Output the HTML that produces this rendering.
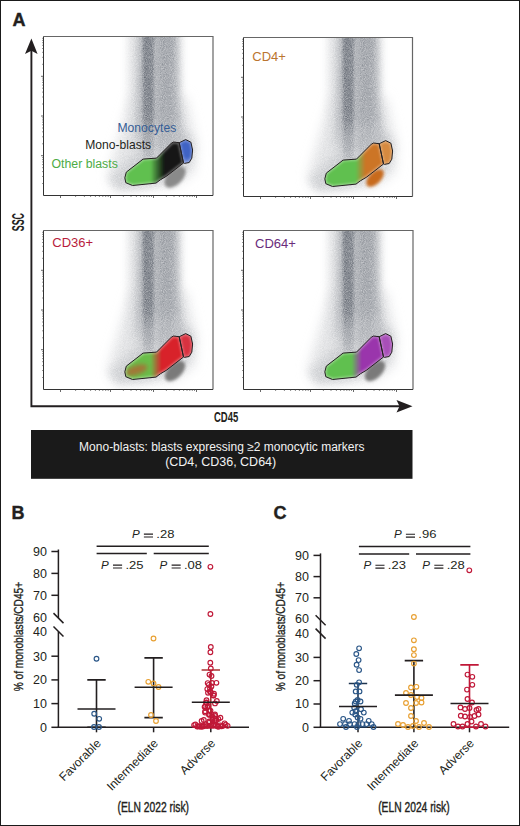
<!DOCTYPE html>
<html><head><meta charset="utf-8"><style>
html,body{margin:0;padding:0;background:#fff;}
svg{display:block;}
text{font-family:"Liberation Sans",sans-serif;}
</style></head><body>
<svg width="520" height="826" viewBox="0 0 520 826">
<defs>
<filter id="b2" x="-50%" y="-50%" width="200%" height="200%"><feGaussianBlur stdDeviation="2"/></filter>
<filter id="b3" x="-50%" y="-50%" width="200%" height="200%"><feGaussianBlur stdDeviation="3"/></filter>
<filter id="b5" x="-50%" y="-50%" width="200%" height="200%"><feGaussianBlur stdDeviation="5"/></filter>
<filter id="b8" x="-50%" y="-50%" width="200%" height="200%"><feGaussianBlur stdDeviation="8"/></filter>
<filter id="b12" x="-50%" y="-50%" width="200%" height="200%"><feGaussianBlur stdDeviation="12"/></filter>
<filter id="b4" x="-50%" y="-50%" width="200%" height="200%"><feGaussianBlur stdDeviation="4"/></filter>
<filter id="b6" x="-50%" y="-50%" width="200%" height="200%"><feGaussianBlur stdDeviation="6"/></filter>
<filter id="b7" x="-50%" y="-50%" width="200%" height="200%"><feGaussianBlur stdDeviation="7"/></filter>
<filter id="b25" x="-50%" y="-50%" width="200%" height="200%"><feGaussianBlur stdDeviation="2.5"/></filter>
<filter id="b15" x="-50%" y="-50%" width="200%" height="200%"><feGaussianBlur stdDeviation="1.5"/></filter>
<filter id="b1" x="-50%" y="-50%" width="200%" height="200%"><feGaussianBlur stdDeviation="0.8"/></filter>
<clipPath id="pc"><rect x="0" y="0" width="170" height="159"/></clipPath>

<polygon id="gbig" points="82.8,135.6 81.3,141.3 82.3,146.2 89,149 112.5,146.6 116.9,143.3 122.7,139.9 140,126.5 135.7,106.2 130.1,105.5 127.9,106.6 113,121.6 99.6,122.6"/>
<polygon id="gmono" points="135.7,106.2 142.2,103.1 147.4,105.7 149.1,113.5 148.3,121.7 145.7,126 140.9,126.9 140,126.5"/>
<clipPath id="cbig"><polygon points="82.8,135.6 81.3,141.3 82.3,146.2 89,149 112.5,146.6 116.9,143.3 122.7,139.9 140,126.5 135.7,106.2 130.1,105.5 127.9,106.6 113,121.6 99.6,122.6"/></clipPath><clipPath id="cmono"><polygon points="135.7,106.2 142.2,103.1 147.4,105.7 149.1,113.5 148.3,121.7 145.7,126 140.9,126.9 140,126.5"/></clipPath>
<linearGradient id="fadeV" gradientUnits="userSpaceOnUse" x1="0" y1="-20" x2="0" y2="128"><stop offset="0" stop-color="#fff" stop-opacity="1"/><stop offset="0.68" stop-color="#fff" stop-opacity="0.95"/><stop offset="0.88" stop-color="#fff" stop-opacity="0.4"/><stop offset="1" stop-color="#fff" stop-opacity="0"/></linearGradient>
<mask id="fm" maskUnits="userSpaceOnUse" x="-20" y="-30" width="220" height="220"><rect x="-20" y="-30" width="220" height="172" fill="url(#fadeV)"/></mask>
<filter id="grain" filterUnits="userSpaceOnUse" x="0" y="0" width="170" height="159" color-interpolation-filters="sRGB">
<feColorMatrix in="SourceGraphic" type="matrix" values="0 0 0 0 0  0 0 0 0 0  0 0 0 0 0  -1 0 0 0 1" result="D"/>
<feTurbulence type="fractalNoise" baseFrequency="1.1" numOctaves="2" seed="4" result="T"/>
<feColorMatrix in="T" type="matrix" values="0 0 0 0 0  0 0 0 0 0  0 0 0 0 0  1 0 0 0 0" result="N"/>
<feComposite in="D" in2="N" operator="arithmetic" k1="0.9" k2="0.55" k3="0" k4="0" result="G"/>
<feFlood flood-color="#1d2533"/>
<feComposite in2="G" operator="in"/>
</filter>
<g id="dens0">
<rect x="-20" y="-20" width="210" height="200" fill="#fff"/>
<polygon points="88,60 142,60 153,108 151,135 130,150 72,153 64,141" fill="#e0e0e0" filter="url(#b6)"/>
<rect x="85" y="-20" width="53" height="128" fill="#dcdcdc" filter="url(#b4)"/>
<polygon points="74,153 66,142 96,112 118,96 142,94 150,106 146,128 128,142 100,151" fill="#cdcdcd" filter="url(#b4)"/>
<ellipse cx="117" cy="118" rx="30" ry="15" fill="#c6c6c6" filter="url(#b5)" transform="rotate(-38 117 118)"/>
<g mask="url(#fm)">
<polygon points="95,-20 134,-20 135,60 141,112 91,112 94,60" fill="#aaaaaa" filter="url(#b3)"/>
<rect x="116" y="-20" width="13" height="160" fill="#9c9c9c" filter="url(#b25)"/>
<rect x="99.5" y="-20" width="10.5" height="160" fill="#747474" filter="url(#b15)"/>
</g>
</g>
<g id="dens"><use href="#dens0" filter="url(#grain)"/></g>
</defs>
<rect x="0.5" y="0.5" width="519" height="825" fill="#fff" stroke="#1a1a1a" stroke-width="1"/>
<text x="12.5" y="25.8" font-size="18" font-weight="bold" fill="#231f20" stroke="#231f20" stroke-width="0.4">A</text>
<g transform="translate(43.5,36.5)">
<g clip-path="url(#pc)"><use href="#dens"/>
<ellipse cx="131.5" cy="140.5" rx="13" ry="7.5" fill="#8a8a8a" filter="url(#b15)" transform="rotate(-45 131.5 140.5)"/>
</g>
<linearGradient id="grTL" gradientUnits="userSpaceOnUse" x1="107" y1="0" x2="121" y2="0"><stop offset="0" stop-color="#60c050"/><stop offset="1" stop-color="#121212"/></linearGradient>
<g clip-path="url(#cbig)"><use href="#gbig" fill="url(#grTL)" stroke="url(#grTL)" stroke-width="3" filter="url(#b1)"/>
<use href="#gbig" fill="none" stroke="#fff" stroke-opacity="0.35" stroke-width="3" filter="url(#b1)"/>
</g>
<linearGradient id="mgrTL" gradientUnits="userSpaceOnUse" x1="0" y1="104" x2="0" y2="127"><stop offset="0" stop-color="#3f63c4"/><stop offset="0.7" stop-color="#3f63c4"/><stop offset="1" stop-color="#7b93dc"/></linearGradient>
<g clip-path="url(#cmono)"><use href="#gmono" fill="url(#mgrTL)" stroke="url(#mgrTL)" stroke-width="3" filter="url(#b1)"/><use href="#gmono" fill="none" stroke="#fff" stroke-opacity="0.3" stroke-width="3" filter="url(#b1)"/></g>
<use href="#gbig" fill="none" stroke="#231f20" stroke-width="1"/>
<use href="#gmono" fill="none" stroke="#231f20" stroke-width="1"/>
<path d="M0,0 H169.5 V159" fill="none" stroke="#666" stroke-width="1.2"/>
<path d="M0,0 V159 H169.5" fill="none" stroke="#333" stroke-width="1"/>
<path d="M0,119.2 h-2.5 M0,79.5 h-2.5 M0,39.8 h-2.5 M0,147.0 h-1.2 M0,140.0 h-1.2 M0,135.1 h-1.2 M0,131.2 h-1.2 M0,128.1 h-1.2 M0,125.4 h-1.2 M0,123.1 h-1.2 M0,121.1 h-1.2 M0,107.3 h-1.2 M0,100.3 h-1.2 M0,95.3 h-1.2 M0,91.5 h-1.2 M0,88.3 h-1.2 M0,85.7 h-1.2 M0,83.4 h-1.2 M0,81.3 h-1.2 M0,67.5 h-1.2 M0,60.5 h-1.2 M0,55.6 h-1.2 M0,51.7 h-1.2 M0,48.6 h-1.2 M0,45.9 h-1.2 M0,43.6 h-1.2 M0,41.6 h-1.2 M0,27.8 h-1.2 M0,20.8 h-1.2 M0,15.8 h-1.2 M0,12.0 h-1.2 M0,8.8 h-1.2 M0,6.2 h-1.2 M0,3.9 h-1.2 M0,1.8 h-1.2 M17,159 v2.5 M32.1,159 v1.3 M40.9,159 v1.3 M47.1,159 v1.3 M51.9,159 v1.3 M55.9,159 v1.3 M59.3,159 v1.3 M62.2,159 v1.3 M64.7,159 v1.3 M67,159 v2.5 M79.9,159 v1.3 M87.5,159 v1.3 M92.9,159 v1.3 M97.1,159 v1.3 M100.5,159 v1.3 M103.3,159 v1.3 M105.8,159 v1.3 M108.0,159 v1.3 M110,159 v2.5 M122.9,159 v1.3 M130.5,159 v1.3 M135.9,159 v1.3 M140.1,159 v1.3 M143.5,159 v1.3 M146.3,159 v1.3 M148.8,159 v1.3 M151.0,159 v1.3 M153,159 v2.5" stroke="#444" stroke-width="0.8"/>
</g>
<g transform="translate(243.5,37.5)">
<g clip-path="url(#pc)"><use href="#dens"/>
<ellipse cx="131.5" cy="140.5" rx="11" ry="6" fill="#c86a1e" filter="url(#b15)" transform="rotate(-45 131.5 140.5)"/>
</g>
<linearGradient id="grTR" gradientUnits="userSpaceOnUse" x1="112" y1="0" x2="122" y2="0"><stop offset="0" stop-color="#60c050"/><stop offset="1" stop-color="#cc7428"/></linearGradient>
<g clip-path="url(#cbig)"><use href="#gbig" fill="url(#grTR)" stroke="url(#grTR)" stroke-width="3" filter="url(#b1)"/>
<use href="#gbig" fill="none" stroke="#fff" stroke-opacity="0.35" stroke-width="3" filter="url(#b1)"/>
</g>
<linearGradient id="mgrTR" gradientUnits="userSpaceOnUse" x1="0" y1="104" x2="0" y2="127"><stop offset="0" stop-color="#d68a40"/><stop offset="0.7" stop-color="#d68a40"/><stop offset="1" stop-color="#d68a40"/></linearGradient>
<g clip-path="url(#cmono)"><use href="#gmono" fill="url(#mgrTR)" stroke="url(#mgrTR)" stroke-width="3" filter="url(#b1)"/><use href="#gmono" fill="none" stroke="#fff" stroke-opacity="0.3" stroke-width="3" filter="url(#b1)"/></g>
<use href="#gbig" fill="none" stroke="#231f20" stroke-width="1"/>
<use href="#gmono" fill="none" stroke="#231f20" stroke-width="1"/>
<path d="M0,0 H169 V159" fill="none" stroke="#666" stroke-width="1.2"/>
<path d="M0,0 V159 H169" fill="none" stroke="#333" stroke-width="1"/>
<path d="M0,119.2 h-2.5 M0,79.5 h-2.5 M0,39.8 h-2.5 M0,147.0 h-1.2 M0,140.0 h-1.2 M0,135.1 h-1.2 M0,131.2 h-1.2 M0,128.1 h-1.2 M0,125.4 h-1.2 M0,123.1 h-1.2 M0,121.1 h-1.2 M0,107.3 h-1.2 M0,100.3 h-1.2 M0,95.3 h-1.2 M0,91.5 h-1.2 M0,88.3 h-1.2 M0,85.7 h-1.2 M0,83.4 h-1.2 M0,81.3 h-1.2 M0,67.5 h-1.2 M0,60.5 h-1.2 M0,55.6 h-1.2 M0,51.7 h-1.2 M0,48.6 h-1.2 M0,45.9 h-1.2 M0,43.6 h-1.2 M0,41.6 h-1.2 M0,27.8 h-1.2 M0,20.8 h-1.2 M0,15.8 h-1.2 M0,12.0 h-1.2 M0,8.8 h-1.2 M0,6.2 h-1.2 M0,3.9 h-1.2 M0,1.8 h-1.2 M17,159 v2.5 M32.1,159 v1.3 M40.9,159 v1.3 M47.1,159 v1.3 M51.9,159 v1.3 M55.9,159 v1.3 M59.3,159 v1.3 M62.2,159 v1.3 M64.7,159 v1.3 M67,159 v2.5 M79.9,159 v1.3 M87.5,159 v1.3 M92.9,159 v1.3 M97.1,159 v1.3 M100.5,159 v1.3 M103.3,159 v1.3 M105.8,159 v1.3 M108.0,159 v1.3 M110,159 v2.5 M122.9,159 v1.3 M130.5,159 v1.3 M135.9,159 v1.3 M140.1,159 v1.3 M143.5,159 v1.3 M146.3,159 v1.3 M148.8,159 v1.3 M151.0,159 v1.3 M153,159 v2.5" stroke="#444" stroke-width="0.8"/>
</g>
<g transform="translate(43.5,230.5)">
<g clip-path="url(#pc)"><use href="#dens"/>
<ellipse cx="131.5" cy="140.5" rx="12.5" ry="7" fill="#7a7a7a" filter="url(#b15)" transform="rotate(-45 131.5 140.5)"/>
</g>
<linearGradient id="grBL" gradientUnits="userSpaceOnUse" x1="107" y1="0" x2="118" y2="0"><stop offset="0" stop-color="#6abd48"/><stop offset="1" stop-color="#d8202c"/></linearGradient>
<g clip-path="url(#cbig)"><use href="#gbig" fill="url(#grBL)" stroke="url(#grBL)" stroke-width="3" filter="url(#b1)"/>
<ellipse cx="93" cy="139.5" rx="11.5" ry="4.5" fill="#ac6a34" filter="url(#b2)" opacity="0.85" transform="rotate(-18 93 139.5)"/>
<use href="#gbig" fill="none" stroke="#fff" stroke-opacity="0.35" stroke-width="3" filter="url(#b1)"/>
</g>
<linearGradient id="mgrBL" gradientUnits="userSpaceOnUse" x1="0" y1="104" x2="0" y2="127"><stop offset="0" stop-color="#d83040"/><stop offset="0.7" stop-color="#d83040"/><stop offset="1" stop-color="#d83040"/></linearGradient>
<g clip-path="url(#cmono)"><use href="#gmono" fill="url(#mgrBL)" stroke="url(#mgrBL)" stroke-width="3" filter="url(#b1)"/><use href="#gmono" fill="none" stroke="#fff" stroke-opacity="0.3" stroke-width="3" filter="url(#b1)"/></g>
<use href="#gbig" fill="none" stroke="#231f20" stroke-width="1"/>
<use href="#gmono" fill="none" stroke="#231f20" stroke-width="1"/>
<path d="M0,0 H169.5 V159" fill="none" stroke="#666" stroke-width="1.2"/>
<path d="M0,0 V159 H169.5" fill="none" stroke="#333" stroke-width="1"/>
<path d="M0,119.2 h-2.5 M0,79.5 h-2.5 M0,39.8 h-2.5 M0,147.0 h-1.2 M0,140.0 h-1.2 M0,135.1 h-1.2 M0,131.2 h-1.2 M0,128.1 h-1.2 M0,125.4 h-1.2 M0,123.1 h-1.2 M0,121.1 h-1.2 M0,107.3 h-1.2 M0,100.3 h-1.2 M0,95.3 h-1.2 M0,91.5 h-1.2 M0,88.3 h-1.2 M0,85.7 h-1.2 M0,83.4 h-1.2 M0,81.3 h-1.2 M0,67.5 h-1.2 M0,60.5 h-1.2 M0,55.6 h-1.2 M0,51.7 h-1.2 M0,48.6 h-1.2 M0,45.9 h-1.2 M0,43.6 h-1.2 M0,41.6 h-1.2 M0,27.8 h-1.2 M0,20.8 h-1.2 M0,15.8 h-1.2 M0,12.0 h-1.2 M0,8.8 h-1.2 M0,6.2 h-1.2 M0,3.9 h-1.2 M0,1.8 h-1.2 M17,159 v2.5 M32.1,159 v1.3 M40.9,159 v1.3 M47.1,159 v1.3 M51.9,159 v1.3 M55.9,159 v1.3 M59.3,159 v1.3 M62.2,159 v1.3 M64.7,159 v1.3 M67,159 v2.5 M79.9,159 v1.3 M87.5,159 v1.3 M92.9,159 v1.3 M97.1,159 v1.3 M100.5,159 v1.3 M103.3,159 v1.3 M105.8,159 v1.3 M108.0,159 v1.3 M110,159 v2.5 M122.9,159 v1.3 M130.5,159 v1.3 M135.9,159 v1.3 M140.1,159 v1.3 M143.5,159 v1.3 M146.3,159 v1.3 M148.8,159 v1.3 M151.0,159 v1.3 M153,159 v2.5" stroke="#444" stroke-width="0.8"/>
</g>
<g transform="translate(243.5,230.5)">
<g clip-path="url(#pc)"><use href="#dens"/>
<ellipse cx="131.5" cy="140.5" rx="12.5" ry="7" fill="#7a7a7a" filter="url(#b15)" transform="rotate(-45 131.5 140.5)"/>
</g>
<linearGradient id="grBR" gradientUnits="userSpaceOnUse" x1="108" y1="0" x2="118" y2="0"><stop offset="0" stop-color="#60c050"/><stop offset="1" stop-color="#9a36ac"/></linearGradient>
<g clip-path="url(#cbig)"><use href="#gbig" fill="url(#grBR)" stroke="url(#grBR)" stroke-width="3" filter="url(#b1)"/>
<use href="#gbig" fill="none" stroke="#fff" stroke-opacity="0.35" stroke-width="3" filter="url(#b1)"/>
</g>
<linearGradient id="mgrBR" gradientUnits="userSpaceOnUse" x1="0" y1="104" x2="0" y2="127"><stop offset="0" stop-color="#a850b8"/><stop offset="0.7" stop-color="#a850b8"/><stop offset="1" stop-color="#a850b8"/></linearGradient>
<g clip-path="url(#cmono)"><use href="#gmono" fill="url(#mgrBR)" stroke="url(#mgrBR)" stroke-width="3" filter="url(#b1)"/><use href="#gmono" fill="none" stroke="#fff" stroke-opacity="0.3" stroke-width="3" filter="url(#b1)"/></g>
<use href="#gbig" fill="none" stroke="#231f20" stroke-width="1"/>
<use href="#gmono" fill="none" stroke="#231f20" stroke-width="1"/>
<path d="M0,0 H169.5 V159" fill="none" stroke="#666" stroke-width="1.2"/>
<path d="M0,0 V159 H169.5" fill="none" stroke="#333" stroke-width="1"/>
<path d="M0,119.2 h-2.5 M0,79.5 h-2.5 M0,39.8 h-2.5 M0,147.0 h-1.2 M0,140.0 h-1.2 M0,135.1 h-1.2 M0,131.2 h-1.2 M0,128.1 h-1.2 M0,125.4 h-1.2 M0,123.1 h-1.2 M0,121.1 h-1.2 M0,107.3 h-1.2 M0,100.3 h-1.2 M0,95.3 h-1.2 M0,91.5 h-1.2 M0,88.3 h-1.2 M0,85.7 h-1.2 M0,83.4 h-1.2 M0,81.3 h-1.2 M0,67.5 h-1.2 M0,60.5 h-1.2 M0,55.6 h-1.2 M0,51.7 h-1.2 M0,48.6 h-1.2 M0,45.9 h-1.2 M0,43.6 h-1.2 M0,41.6 h-1.2 M0,27.8 h-1.2 M0,20.8 h-1.2 M0,15.8 h-1.2 M0,12.0 h-1.2 M0,8.8 h-1.2 M0,6.2 h-1.2 M0,3.9 h-1.2 M0,1.8 h-1.2 M17,159 v2.5 M32.1,159 v1.3 M40.9,159 v1.3 M47.1,159 v1.3 M51.9,159 v1.3 M55.9,159 v1.3 M59.3,159 v1.3 M62.2,159 v1.3 M64.7,159 v1.3 M67,159 v2.5 M79.9,159 v1.3 M87.5,159 v1.3 M92.9,159 v1.3 M97.1,159 v1.3 M100.5,159 v1.3 M103.3,159 v1.3 M105.8,159 v1.3 M108.0,159 v1.3 M110,159 v2.5 M122.9,159 v1.3 M130.5,159 v1.3 M135.9,159 v1.3 M140.1,159 v1.3 M143.5,159 v1.3 M146.3,159 v1.3 M148.8,159 v1.3 M151.0,159 v1.3 M153,159 v2.5" stroke="#444" stroke-width="0.8"/>
</g>
<text x="117.5" y="132" font-size="12.15" fill="#355d95">Monocytes</text>
<text x="85.3" y="149" font-size="12.1" fill="#231f20">Mono-blasts</text>
<text x="51.5" y="168" font-size="12.3" fill="#4cab45">Other blasts</text>
<text x="252.3" y="61.1" font-size="13" fill="#bb7530">CD4+</text>
<text x="52.3" y="246.8" font-size="13" fill="#b81c3c">CD36+</text>
<text x="255" y="247.6" font-size="13" fill="#6a2c7c">CD64+</text>
<path d="M31.4,48 V406.2 H402" fill="none" stroke="#231f20" stroke-width="1.9"/>
<path d="M31.4,38.4 L37.6,54 L31.4,50.8 L25,54 Z" fill="#231f20"/>
<path d="M412.5,406.2 L396.5,400 L399.5,406.2 L396.5,412.6 Z" fill="#231f20"/>
<text transform="translate(24,231.2) rotate(-90)" font-size="16.5" font-weight="bold" fill="#231f20" textLength="18.2" lengthAdjust="spacingAndGlyphs">SSC</text>
<text x="214" y="422" font-size="15.2" font-weight="bold" fill="#231f20" textLength="24.2" lengthAdjust="spacingAndGlyphs">CD45</text>
<rect x="31" y="430" width="381.5" height="48.8" fill="#1a1a1a"/>
<text x="221.8" y="450.6" font-size="12" fill="#f2f2f2" text-anchor="middle">Mono-blasts: blasts expressing ≥2 monocytic markers</text>
<text x="165.2" y="465.8" font-size="12" fill="#f2f2f2" textLength="111" lengthAdjust="spacingAndGlyphs">(CD4, CD36, CD64)</text>
<text x="11.5" y="518.6" font-size="18" font-weight="bold" fill="#231f20" stroke="#231f20" stroke-width="0.4">B</text>
<path d="M58.4,549.5 V618.1 M58.4,631.5 V727.3" stroke="#231f20" stroke-width="1.5" fill="none"/>
<path d="M53.5,613.1 L63.5,623.1" stroke="#231f20" stroke-width="1.5"/>
<path d="M53.5,626.5 L63.5,636.5" stroke="#231f20" stroke-width="1.5"/>
<path d="M51.4,551.5 H58.4" stroke="#231f20" stroke-width="1.5"/>
<path d="M51.4,573.4000000000001 H58.4" stroke="#231f20" stroke-width="1.5"/>
<path d="M51.4,595.3000000000001 H58.4" stroke="#231f20" stroke-width="1.5"/>
<path d="M51.4,656.1999999999999 H58.4" stroke="#231f20" stroke-width="1.5"/>
<path d="M51.4,679.9 H58.4" stroke="#231f20" stroke-width="1.5"/>
<path d="M51.4,703.5999999999999 H58.4" stroke="#231f20" stroke-width="1.5"/>
<path d="M51.4,727.3 H58.4" stroke="#231f20" stroke-width="1.5"/>
<text x="46.9" y="555.8" font-size="12.5" fill="#231f20" text-anchor="end">90</text>
<text x="46.9" y="577.7" font-size="12.5" fill="#231f20" text-anchor="end">80</text>
<text x="46.9" y="599.6" font-size="12.5" fill="#231f20" text-anchor="end">70</text>
<text x="46.9" y="622.4" font-size="12.5" fill="#231f20" text-anchor="end">60</text>
<text x="46.9" y="635.8" font-size="12.5" fill="#231f20" text-anchor="end">40</text>
<text x="46.9" y="660.4999999999999" font-size="12.5" fill="#231f20" text-anchor="end">30</text>
<text x="46.9" y="684.1999999999999" font-size="12.5" fill="#231f20" text-anchor="end">20</text>
<text x="46.9" y="707.8999999999999" font-size="12.5" fill="#231f20" text-anchor="end">10</text>
<text x="46.9" y="731.5999999999999" font-size="12.5" fill="#231f20" text-anchor="end">0</text>
<path d="M57.65,727.3 H249" stroke="#231f20" stroke-width="1.5"/>
<path d="M96.6,546.2 H208.8 M96.6,553.6 H146.8 M153.7,553.6 H208.8" stroke="#231f20" stroke-width="1.5"/>
<text x="131.9" y="538.2" font-size="11.6" fill="#231f20" font-style="italic">P</text>
<path d="M143.9,534.1 h9.1 M143.9,537.0 h9.1" stroke="#231f20" stroke-width="1.15"/>
<text x="156.3" y="538.2" font-size="11.6" fill="#231f20" textLength="18.1" lengthAdjust="spacingAndGlyphs">.28</text>
<text x="101.0" y="569.2" font-size="11.6" fill="#231f20" font-style="italic">P</text>
<path d="M113.0,565.1 h9.1 M113.0,568.0 h9.1" stroke="#231f20" stroke-width="1.15"/>
<text x="125.4" y="569.2" font-size="11.6" fill="#231f20" textLength="18.1" lengthAdjust="spacingAndGlyphs">.25</text>
<text x="159.6" y="569.2" font-size="11.6" fill="#231f20" font-style="italic">P</text>
<path d="M171.6,565.1 h9.1 M171.6,568.0 h9.1" stroke="#231f20" stroke-width="1.15"/>
<text x="184.0" y="569.2" font-size="11.6" fill="#231f20" textLength="18.1" lengthAdjust="spacingAndGlyphs">.08</text>
<path d="M96.5,727.3 v5" stroke="#231f20" stroke-width="1.5"/>
<path d="M96.5,679.9 V727.3 M87.3,679.9 H105.7 M87.3,727.3 H105.7" stroke="#231f20" stroke-width="1.6" fill="none"/>
<circle cx="96.5" cy="658.7" r="2.35" fill="none" stroke="#2b5788" stroke-width="1.15"/>
<circle cx="94.2" cy="713.7" r="2.35" fill="none" stroke="#2b5788" stroke-width="1.15"/>
<circle cx="99.2" cy="718.8" r="2.35" fill="none" stroke="#2b5788" stroke-width="1.15"/>
<circle cx="94.0" cy="727.0" r="2.35" fill="none" stroke="#2b5788" stroke-width="1.15"/>
<circle cx="99.0" cy="727.0" r="2.35" fill="none" stroke="#2b5788" stroke-width="1.15"/>
<path d="M77.5,709.0509999999999 H115.5" stroke="#231f20" stroke-width="1.6"/>
<text transform="translate(101.7,744.0999999999999) rotate(-45)" font-size="12" fill="#231f20" text-anchor="end">Favorable</text>
<path d="M153.6,727.3 v5" stroke="#231f20" stroke-width="1.5"/>
<path d="M153.6,657.8589999999999 V717.583 M144.4,657.8589999999999 H162.79999999999998 M144.4,717.583 H162.79999999999998" stroke="#231f20" stroke-width="1.6" fill="none"/>
<circle cx="153.5" cy="638.5" r="2.35" fill="none" stroke="#e8a032" stroke-width="1.15"/>
<circle cx="148.3" cy="681.8" r="2.35" fill="none" stroke="#e8a032" stroke-width="1.15"/>
<circle cx="153.5" cy="683.4" r="2.35" fill="none" stroke="#e8a032" stroke-width="1.15"/>
<circle cx="158.5" cy="687.0" r="2.35" fill="none" stroke="#e8a032" stroke-width="1.15"/>
<circle cx="151.0" cy="715.0" r="2.35" fill="none" stroke="#e8a032" stroke-width="1.15"/>
<circle cx="156.0" cy="721.0" r="2.35" fill="none" stroke="#e8a032" stroke-width="1.15"/>
<path d="M134.6,687.247 H172.6" stroke="#231f20" stroke-width="1.6"/>
<text transform="translate(158.79999999999998,744.0999999999999) rotate(-45)" font-size="12" fill="#231f20" text-anchor="end">Intermediate</text>
<path d="M210.8,727.3 v5" stroke="#231f20" stroke-width="1.5"/>
<path d="M210.8,669.9459999999999 V727.3 M201.60000000000002,669.9459999999999 H220.0 M201.60000000000002,727.3 H220.0" stroke="#a33" stroke-width="1.6" fill="none"/>
<circle cx="194.1" cy="725.1" r="2.35" fill="none" stroke="#c01838" stroke-width="1.15"/>
<circle cx="195.4" cy="724.4" r="2.35" fill="none" stroke="#c01838" stroke-width="1.15"/>
<circle cx="197.2" cy="726.5" r="2.35" fill="none" stroke="#c01838" stroke-width="1.15"/>
<circle cx="198.6" cy="726.4" r="2.35" fill="none" stroke="#c01838" stroke-width="1.15"/>
<circle cx="199.6" cy="726.2" r="2.35" fill="none" stroke="#c01838" stroke-width="1.15"/>
<circle cx="201.1" cy="726.7" r="2.35" fill="none" stroke="#c01838" stroke-width="1.15"/>
<circle cx="202.8" cy="726.5" r="2.35" fill="none" stroke="#c01838" stroke-width="1.15"/>
<circle cx="204.1" cy="726.0" r="2.35" fill="none" stroke="#c01838" stroke-width="1.15"/>
<circle cx="205.9" cy="724.3" r="2.35" fill="none" stroke="#c01838" stroke-width="1.15"/>
<circle cx="207.1" cy="726.1" r="2.35" fill="none" stroke="#c01838" stroke-width="1.15"/>
<circle cx="209.1" cy="722.8" r="2.35" fill="none" stroke="#c01838" stroke-width="1.15"/>
<circle cx="209.9" cy="725.7" r="2.35" fill="none" stroke="#c01838" stroke-width="1.15"/>
<circle cx="211.2" cy="725.6" r="2.35" fill="none" stroke="#c01838" stroke-width="1.15"/>
<circle cx="213.2" cy="725.7" r="2.35" fill="none" stroke="#c01838" stroke-width="1.15"/>
<circle cx="214.1" cy="724.3" r="2.35" fill="none" stroke="#c01838" stroke-width="1.15"/>
<circle cx="215.7" cy="725.5" r="2.35" fill="none" stroke="#c01838" stroke-width="1.15"/>
<circle cx="217.3" cy="726.3" r="2.35" fill="none" stroke="#c01838" stroke-width="1.15"/>
<circle cx="218.4" cy="726.7" r="2.35" fill="none" stroke="#c01838" stroke-width="1.15"/>
<circle cx="220.3" cy="725.3" r="2.35" fill="none" stroke="#c01838" stroke-width="1.15"/>
<circle cx="221.6" cy="726.2" r="2.35" fill="none" stroke="#c01838" stroke-width="1.15"/>
<circle cx="223.0" cy="725.8" r="2.35" fill="none" stroke="#c01838" stroke-width="1.15"/>
<circle cx="224.6" cy="723.3" r="2.35" fill="none" stroke="#c01838" stroke-width="1.15"/>
<circle cx="225.6" cy="724.6" r="2.35" fill="none" stroke="#c01838" stroke-width="1.15"/>
<circle cx="227.6" cy="725.8" r="2.35" fill="none" stroke="#c01838" stroke-width="1.15"/>
<circle cx="215.4" cy="718.7" r="2.35" fill="none" stroke="#c01838" stroke-width="1.15"/>
<circle cx="220.4" cy="717.7" r="2.35" fill="none" stroke="#c01838" stroke-width="1.15"/>
<circle cx="209.2" cy="721.5" r="2.35" fill="none" stroke="#c01838" stroke-width="1.15"/>
<circle cx="203.8" cy="719.9" r="2.35" fill="none" stroke="#c01838" stroke-width="1.15"/>
<circle cx="201.6" cy="721.0" r="2.35" fill="none" stroke="#c01838" stroke-width="1.15"/>
<circle cx="216.1" cy="720.4" r="2.35" fill="none" stroke="#c01838" stroke-width="1.15"/>
<circle cx="218.3" cy="718.9" r="2.35" fill="none" stroke="#c01838" stroke-width="1.15"/>
<circle cx="214.7" cy="720.6" r="2.35" fill="none" stroke="#c01838" stroke-width="1.15"/>
<circle cx="212.4" cy="719.7" r="2.35" fill="none" stroke="#c01838" stroke-width="1.15"/>
<circle cx="215.2" cy="715.9" r="2.35" fill="none" stroke="#c01838" stroke-width="1.15"/>
<circle cx="210.5" cy="710.6" r="2.35" fill="none" stroke="#c01838" stroke-width="1.15"/>
<circle cx="205.1" cy="711.3" r="2.35" fill="none" stroke="#c01838" stroke-width="1.15"/>
<circle cx="212.7" cy="716.9" r="2.35" fill="none" stroke="#c01838" stroke-width="1.15"/>
<circle cx="215.0" cy="703.4" r="2.35" fill="none" stroke="#c01838" stroke-width="1.15"/>
<circle cx="209.3" cy="710.7" r="2.35" fill="none" stroke="#c01838" stroke-width="1.15"/>
<circle cx="204.6" cy="706.8" r="2.35" fill="none" stroke="#c01838" stroke-width="1.15"/>
<circle cx="206.5" cy="700.2" r="2.35" fill="none" stroke="#c01838" stroke-width="1.15"/>
<circle cx="205.1" cy="712.6" r="2.35" fill="none" stroke="#c01838" stroke-width="1.15"/>
<circle cx="206.0" cy="702.7" r="2.35" fill="none" stroke="#c01838" stroke-width="1.15"/>
<circle cx="209.4" cy="714.6" r="2.35" fill="none" stroke="#c01838" stroke-width="1.15"/>
<circle cx="205.3" cy="706.5" r="2.35" fill="none" stroke="#c01838" stroke-width="1.15"/>
<circle cx="211.4" cy="714.8" r="2.35" fill="none" stroke="#c01838" stroke-width="1.15"/>
<circle cx="215.0" cy="714.4" r="2.35" fill="none" stroke="#c01838" stroke-width="1.15"/>
<circle cx="207.9" cy="705.9" r="2.35" fill="none" stroke="#c01838" stroke-width="1.15"/>
<circle cx="209.0" cy="714.8" r="2.35" fill="none" stroke="#c01838" stroke-width="1.15"/>
<circle cx="216.8" cy="700.9" r="2.35" fill="none" stroke="#c01838" stroke-width="1.15"/>
<circle cx="206.6" cy="702.4" r="2.35" fill="none" stroke="#c01838" stroke-width="1.15"/>
<circle cx="207.3" cy="707.2" r="2.35" fill="none" stroke="#c01838" stroke-width="1.15"/>
<circle cx="211.4" cy="686.5" r="2.35" fill="none" stroke="#c01838" stroke-width="1.15"/>
<circle cx="207.3" cy="689.1" r="2.35" fill="none" stroke="#c01838" stroke-width="1.15"/>
<circle cx="209.9" cy="691.6" r="2.35" fill="none" stroke="#c01838" stroke-width="1.15"/>
<circle cx="214.0" cy="693.7" r="2.35" fill="none" stroke="#c01838" stroke-width="1.15"/>
<circle cx="210.9" cy="692.5" r="2.35" fill="none" stroke="#c01838" stroke-width="1.15"/>
<circle cx="212.0" cy="682.9" r="2.35" fill="none" stroke="#c01838" stroke-width="1.15"/>
<circle cx="213.6" cy="695.3" r="2.35" fill="none" stroke="#c01838" stroke-width="1.15"/>
<circle cx="213.4" cy="695.6" r="2.35" fill="none" stroke="#c01838" stroke-width="1.15"/>
<circle cx="210.0" cy="688.8" r="2.35" fill="none" stroke="#c01838" stroke-width="1.15"/>
<circle cx="208.0" cy="692.8" r="2.35" fill="none" stroke="#c01838" stroke-width="1.15"/>
<circle cx="207.7" cy="683.1" r="2.35" fill="none" stroke="#c01838" stroke-width="1.15"/>
<circle cx="208.8" cy="684.8" r="2.35" fill="none" stroke="#c01838" stroke-width="1.15"/>
<circle cx="209.5" cy="674.6" r="2.35" fill="none" stroke="#c01838" stroke-width="1.15"/>
<circle cx="211.5" cy="676.0" r="2.35" fill="none" stroke="#c01838" stroke-width="1.15"/>
<circle cx="210.8" cy="668.5" r="2.35" fill="none" stroke="#c01838" stroke-width="1.15"/>
<circle cx="210.3" cy="662.7" r="2.35" fill="none" stroke="#c01838" stroke-width="1.15"/>
<circle cx="210.4" cy="652.2" r="2.35" fill="none" stroke="#c01838" stroke-width="1.15"/>
<circle cx="210.8" cy="647.0" r="2.35" fill="none" stroke="#c01838" stroke-width="1.15"/>
<circle cx="216.4" cy="682.8" r="2.35" fill="none" stroke="#c01838" stroke-width="1.15"/>
<circle cx="210.4" cy="614.0" r="2.35" fill="none" stroke="#c01838" stroke-width="1.15"/>
<circle cx="210.4" cy="566.8" r="2.35" fill="none" stroke="#c01838" stroke-width="1.15"/>
<path d="M191.8,702.178 H229.8" stroke="#231f20" stroke-width="1.6"/>
<text transform="translate(216.0,744.0999999999999) rotate(-45)" font-size="12" fill="#231f20" text-anchor="end">Adverse</text>
<text transform="translate(22.799999999999997,691.3) rotate(-90)" font-size="13" fill="#231f20" textLength="109.4" lengthAdjust="spacingAndGlyphs" stroke="#231f20" stroke-width="0.35">% of monoblasts/CD45+</text>
<text x="117.6" y="812.2" font-size="14.2" fill="#231f20" textLength="71.4" lengthAdjust="spacingAndGlyphs" stroke="#231f20" stroke-width="0.4">(ELN 2022 risk)</text>
<text x="273.5" y="518.6" font-size="18" font-weight="bold" fill="#231f20" stroke="#231f20" stroke-width="0.4">C</text>
<path d="M320.5,553.4 V727.3" stroke="#231f20" stroke-width="1.5" fill="none"/>
<path d="M315.6,615.3 L325.6,625.3" stroke="#231f20" stroke-width="1.5"/>
<path d="M315.6,628.6 L325.6,638.6" stroke="#231f20" stroke-width="1.5"/>
<path d="M313.5,555.4 H320.5" stroke="#231f20" stroke-width="1.5"/>
<path d="M313.5,576.6 H320.5" stroke="#231f20" stroke-width="1.5"/>
<path d="M313.5,597.8 H320.5" stroke="#231f20" stroke-width="1.5"/>
<path d="M313.5,657.4 H320.5" stroke="#231f20" stroke-width="1.5"/>
<path d="M313.5,680.6999999999999 H320.5" stroke="#231f20" stroke-width="1.5"/>
<path d="M313.5,704.0 H320.5" stroke="#231f20" stroke-width="1.5"/>
<path d="M313.5,727.3 H320.5" stroke="#231f20" stroke-width="1.5"/>
<text x="309.0" y="559.6999999999999" font-size="12.5" fill="#231f20" text-anchor="end">90</text>
<text x="309.0" y="580.9" font-size="12.5" fill="#231f20" text-anchor="end">80</text>
<text x="309.0" y="602.0999999999999" font-size="12.5" fill="#231f20" text-anchor="end">70</text>
<text x="309.0" y="622.5999999999999" font-size="12.5" fill="#231f20" text-anchor="end">60</text>
<text x="309.0" y="637.9" font-size="12.5" fill="#231f20" text-anchor="end">40</text>
<text x="309.0" y="661.6999999999999" font-size="12.5" fill="#231f20" text-anchor="end">30</text>
<text x="309.0" y="684.9999999999999" font-size="12.5" fill="#231f20" text-anchor="end">20</text>
<text x="309.0" y="708.3" font-size="12.5" fill="#231f20" text-anchor="end">10</text>
<text x="309.0" y="731.5999999999999" font-size="12.5" fill="#231f20" text-anchor="end">0</text>
<path d="M319.75,727.3 H509.2" stroke="#231f20" stroke-width="1.5"/>
<path d="M358.9,546.4 H470.4 M358.9,553.9 H409.2 M416,553.9 H470.4" stroke="#231f20" stroke-width="1.5"/>
<text x="393.90000000000003" y="538.3" font-size="11.6" fill="#231f20" font-style="italic">P</text>
<path d="M405.90000000000003,534.1999999999999 h9.1 M405.90000000000003,537.0999999999999 h9.1" stroke="#231f20" stroke-width="1.15"/>
<text x="418.3" y="538.3" font-size="11.6" fill="#231f20" textLength="18.1" lengthAdjust="spacingAndGlyphs">.96</text>
<text x="363.40000000000003" y="569.3" font-size="11.6" fill="#231f20" font-style="italic">P</text>
<path d="M375.40000000000003,565.1999999999999 h9.1 M375.40000000000003,568.0999999999999 h9.1" stroke="#231f20" stroke-width="1.15"/>
<text x="387.8" y="569.3" font-size="11.6" fill="#231f20" textLength="18.1" lengthAdjust="spacingAndGlyphs">.23</text>
<text x="422.3" y="569.3" font-size="11.6" fill="#231f20" font-style="italic">P</text>
<path d="M434.3,565.1999999999999 h9.1 M434.3,568.0999999999999 h9.1" stroke="#231f20" stroke-width="1.15"/>
<text x="446.7" y="569.3" font-size="11.6" fill="#231f20" textLength="18.1" lengthAdjust="spacingAndGlyphs">.28</text>
<path d="M358,727.3 v5" stroke="#231f20" stroke-width="1.5"/>
<path d="M358,683.496 V727.3 M348.8,683.496 H367.2 M348.8,727.3 H367.2" stroke="#1f3550" stroke-width="1.6" fill="none"/>
<circle cx="359.1" cy="648.3" r="2.35" fill="none" stroke="#2b5788" stroke-width="1.15"/>
<circle cx="356.3" cy="654.0" r="2.35" fill="none" stroke="#2b5788" stroke-width="1.15"/>
<circle cx="358.6" cy="660.1" r="2.35" fill="none" stroke="#2b5788" stroke-width="1.15"/>
<circle cx="356.6" cy="664.7" r="2.35" fill="none" stroke="#2b5788" stroke-width="1.15"/>
<circle cx="359.1" cy="670.1" r="2.35" fill="none" stroke="#2b5788" stroke-width="1.15"/>
<circle cx="359.1" cy="682.3" r="2.35" fill="none" stroke="#2b5788" stroke-width="1.15"/>
<circle cx="356.7" cy="684.8" r="2.35" fill="none" stroke="#2b5788" stroke-width="1.15"/>
<circle cx="355.7" cy="691.4" r="2.35" fill="none" stroke="#2b5788" stroke-width="1.15"/>
<circle cx="359.5" cy="691.4" r="2.35" fill="none" stroke="#2b5788" stroke-width="1.15"/>
<circle cx="357.6" cy="700.0" r="2.35" fill="none" stroke="#2b5788" stroke-width="1.15"/>
<circle cx="355.7" cy="701.5" r="2.35" fill="none" stroke="#2b5788" stroke-width="1.15"/>
<circle cx="360.5" cy="701.5" r="2.35" fill="none" stroke="#2b5788" stroke-width="1.15"/>
<circle cx="354.7" cy="703.5" r="2.35" fill="none" stroke="#2b5788" stroke-width="1.15"/>
<circle cx="354.2" cy="707.8" r="2.35" fill="none" stroke="#2b5788" stroke-width="1.15"/>
<circle cx="361.0" cy="709.2" r="2.35" fill="none" stroke="#2b5788" stroke-width="1.15"/>
<circle cx="355.7" cy="711.2" r="2.35" fill="none" stroke="#2b5788" stroke-width="1.15"/>
<circle cx="352.3" cy="712.6" r="2.35" fill="none" stroke="#2b5788" stroke-width="1.15"/>
<circle cx="363.8" cy="712.6" r="2.35" fill="none" stroke="#2b5788" stroke-width="1.15"/>
<circle cx="355.2" cy="714.5" r="2.35" fill="none" stroke="#2b5788" stroke-width="1.15"/>
<circle cx="357.6" cy="717.4" r="2.35" fill="none" stroke="#2b5788" stroke-width="1.15"/>
<circle cx="343.2" cy="718.8" r="2.35" fill="none" stroke="#2b5788" stroke-width="1.15"/>
<circle cx="360.5" cy="718.8" r="2.35" fill="none" stroke="#2b5788" stroke-width="1.15"/>
<circle cx="349.0" cy="720.8" r="2.35" fill="none" stroke="#2b5788" stroke-width="1.15"/>
<circle cx="368.7" cy="720.8" r="2.35" fill="none" stroke="#2b5788" stroke-width="1.15"/>
<circle cx="340.0" cy="724.1" r="2.35" fill="none" stroke="#2b5788" stroke-width="1.15"/>
<circle cx="345.0" cy="724.1" r="2.35" fill="none" stroke="#2b5788" stroke-width="1.15"/>
<circle cx="350.0" cy="724.1" r="2.35" fill="none" stroke="#2b5788" stroke-width="1.15"/>
<circle cx="354.5" cy="724.1" r="2.35" fill="none" stroke="#2b5788" stroke-width="1.15"/>
<circle cx="358.5" cy="724.1" r="2.35" fill="none" stroke="#2b5788" stroke-width="1.15"/>
<circle cx="362.5" cy="724.1" r="2.35" fill="none" stroke="#2b5788" stroke-width="1.15"/>
<circle cx="366.5" cy="724.1" r="2.35" fill="none" stroke="#2b5788" stroke-width="1.15"/>
<circle cx="371.7" cy="724.1" r="2.35" fill="none" stroke="#2b5788" stroke-width="1.15"/>
<circle cx="346.0" cy="727.0" r="2.35" fill="none" stroke="#2b5788" stroke-width="1.15"/>
<circle cx="357.0" cy="727.0" r="2.35" fill="none" stroke="#2b5788" stroke-width="1.15"/>
<circle cx="373.5" cy="727.0" r="2.35" fill="none" stroke="#2b5788" stroke-width="1.15"/>
<path d="M339,706.563 H377" stroke="#231f20" stroke-width="1.6"/>
<text transform="translate(363.2,744.0999999999999) rotate(-45)" font-size="12" fill="#231f20" text-anchor="end">Favorable</text>
<path d="M413.9,727.3 v5" stroke="#231f20" stroke-width="1.5"/>
<path d="M413.9,660.6619999999999 V727.3 M404.7,660.6619999999999 H423.09999999999997 M404.7,727.3 H423.09999999999997" stroke="#231f20" stroke-width="1.6" fill="none"/>
<circle cx="413.9" cy="617.0" r="2.35" fill="none" stroke="#e8a032" stroke-width="1.15"/>
<circle cx="413.9" cy="640.3" r="2.35" fill="none" stroke="#e8a032" stroke-width="1.15"/>
<circle cx="413.9" cy="649.2" r="2.35" fill="none" stroke="#e8a032" stroke-width="1.15"/>
<circle cx="413.9" cy="655.1" r="2.35" fill="none" stroke="#e8a032" stroke-width="1.15"/>
<circle cx="413.9" cy="663.6" r="2.35" fill="none" stroke="#e8a032" stroke-width="1.15"/>
<circle cx="411.0" cy="687.5" r="2.35" fill="none" stroke="#e8a032" stroke-width="1.15"/>
<circle cx="416.4" cy="686.8" r="2.35" fill="none" stroke="#e8a032" stroke-width="1.15"/>
<circle cx="406.0" cy="693.0" r="2.35" fill="none" stroke="#e8a032" stroke-width="1.15"/>
<circle cx="411.0" cy="695.0" r="2.35" fill="none" stroke="#e8a032" stroke-width="1.15"/>
<circle cx="417.0" cy="697.0" r="2.35" fill="none" stroke="#e8a032" stroke-width="1.15"/>
<circle cx="421.5" cy="698.0" r="2.35" fill="none" stroke="#e8a032" stroke-width="1.15"/>
<circle cx="406.0" cy="703.0" r="2.35" fill="none" stroke="#e8a032" stroke-width="1.15"/>
<circle cx="416.0" cy="703.0" r="2.35" fill="none" stroke="#e8a032" stroke-width="1.15"/>
<circle cx="421.5" cy="702.5" r="2.35" fill="none" stroke="#e8a032" stroke-width="1.15"/>
<circle cx="411.0" cy="708.0" r="2.35" fill="none" stroke="#e8a032" stroke-width="1.15"/>
<circle cx="411.0" cy="716.0" r="2.35" fill="none" stroke="#e8a032" stroke-width="1.15"/>
<circle cx="416.0" cy="721.0" r="2.35" fill="none" stroke="#e8a032" stroke-width="1.15"/>
<circle cx="398.0" cy="724.0" r="2.35" fill="none" stroke="#e8a032" stroke-width="1.15"/>
<circle cx="403.0" cy="725.0" r="2.35" fill="none" stroke="#e8a032" stroke-width="1.15"/>
<circle cx="408.0" cy="727.0" r="2.35" fill="none" stroke="#e8a032" stroke-width="1.15"/>
<circle cx="419.0" cy="727.0" r="2.35" fill="none" stroke="#e8a032" stroke-width="1.15"/>
<circle cx="429.0" cy="727.0" r="2.35" fill="none" stroke="#e8a032" stroke-width="1.15"/>
<circle cx="413.0" cy="726.0" r="2.35" fill="none" stroke="#e8a032" stroke-width="1.15"/>
<circle cx="424.0" cy="723.0" r="2.35" fill="none" stroke="#e8a032" stroke-width="1.15"/>
<path d="M394.9,695.146 H432.9" stroke="#231f20" stroke-width="1.6"/>
<text transform="translate(419.09999999999997,744.0999999999999) rotate(-45)" font-size="12" fill="#231f20" text-anchor="end">Intermediate</text>
<path d="M469.5,727.3 v5" stroke="#231f20" stroke-width="1.5"/>
<path d="M469.5,664.856 V727.3 M460.3,664.856 H478.7 M460.3,727.3 H478.7" stroke="#c01838" stroke-width="1.6" fill="none"/>
<circle cx="469.3" cy="570.3" r="2.35" fill="none" stroke="#c01838" stroke-width="1.15"/>
<circle cx="467.5" cy="674.6" r="2.35" fill="none" stroke="#c01838" stroke-width="1.15"/>
<circle cx="472.3" cy="676.8" r="2.35" fill="none" stroke="#c01838" stroke-width="1.15"/>
<circle cx="472.3" cy="684.8" r="2.35" fill="none" stroke="#c01838" stroke-width="1.15"/>
<circle cx="467.0" cy="689.6" r="2.35" fill="none" stroke="#c01838" stroke-width="1.15"/>
<circle cx="467.5" cy="699.0" r="2.35" fill="none" stroke="#c01838" stroke-width="1.15"/>
<circle cx="472.0" cy="702.5" r="2.35" fill="none" stroke="#c01838" stroke-width="1.15"/>
<circle cx="460.5" cy="707.4" r="2.35" fill="none" stroke="#c01838" stroke-width="1.15"/>
<circle cx="465.0" cy="709.0" r="2.35" fill="none" stroke="#c01838" stroke-width="1.15"/>
<circle cx="469.5" cy="708.0" r="2.35" fill="none" stroke="#c01838" stroke-width="1.15"/>
<circle cx="476.5" cy="710.0" r="2.35" fill="none" stroke="#c01838" stroke-width="1.15"/>
<circle cx="478.5" cy="709.0" r="2.35" fill="none" stroke="#c01838" stroke-width="1.15"/>
<circle cx="460.8" cy="715.7" r="2.35" fill="none" stroke="#c01838" stroke-width="1.15"/>
<circle cx="465.0" cy="716.5" r="2.35" fill="none" stroke="#c01838" stroke-width="1.15"/>
<circle cx="470.0" cy="717.0" r="2.35" fill="none" stroke="#c01838" stroke-width="1.15"/>
<circle cx="474.5" cy="716.0" r="2.35" fill="none" stroke="#c01838" stroke-width="1.15"/>
<circle cx="478.5" cy="714.5" r="2.35" fill="none" stroke="#c01838" stroke-width="1.15"/>
<circle cx="471.5" cy="721.5" r="2.35" fill="none" stroke="#c01838" stroke-width="1.15"/>
<circle cx="467.5" cy="724.0" r="2.35" fill="none" stroke="#c01838" stroke-width="1.15"/>
<circle cx="453.5" cy="724.0" r="2.35" fill="none" stroke="#c01838" stroke-width="1.15"/>
<circle cx="481.0" cy="724.0" r="2.35" fill="none" stroke="#c01838" stroke-width="1.15"/>
<circle cx="458.0" cy="726.5" r="2.35" fill="none" stroke="#c01838" stroke-width="1.15"/>
<circle cx="462.5" cy="726.5" r="2.35" fill="none" stroke="#c01838" stroke-width="1.15"/>
<circle cx="476.0" cy="726.5" r="2.35" fill="none" stroke="#c01838" stroke-width="1.15"/>
<circle cx="485.5" cy="726.5" r="2.35" fill="none" stroke="#c01838" stroke-width="1.15"/>
<path d="M450.5,703.534 H488.5" stroke="#231f20" stroke-width="1.6"/>
<text transform="translate(474.7,744.0999999999999) rotate(-45)" font-size="12" fill="#231f20" text-anchor="end">Adverse</text>
<text transform="translate(284.9,691.3) rotate(-90)" font-size="13" fill="#231f20" textLength="109.4" lengthAdjust="spacingAndGlyphs" stroke="#231f20" stroke-width="0.35">% of monoblasts/CD45+</text>
<text x="378.2" y="812.2" font-size="14.2" fill="#231f20" textLength="71.4" lengthAdjust="spacingAndGlyphs" stroke="#231f20" stroke-width="0.4">(ELN 2024 risk)</text>
</svg></body></html>
